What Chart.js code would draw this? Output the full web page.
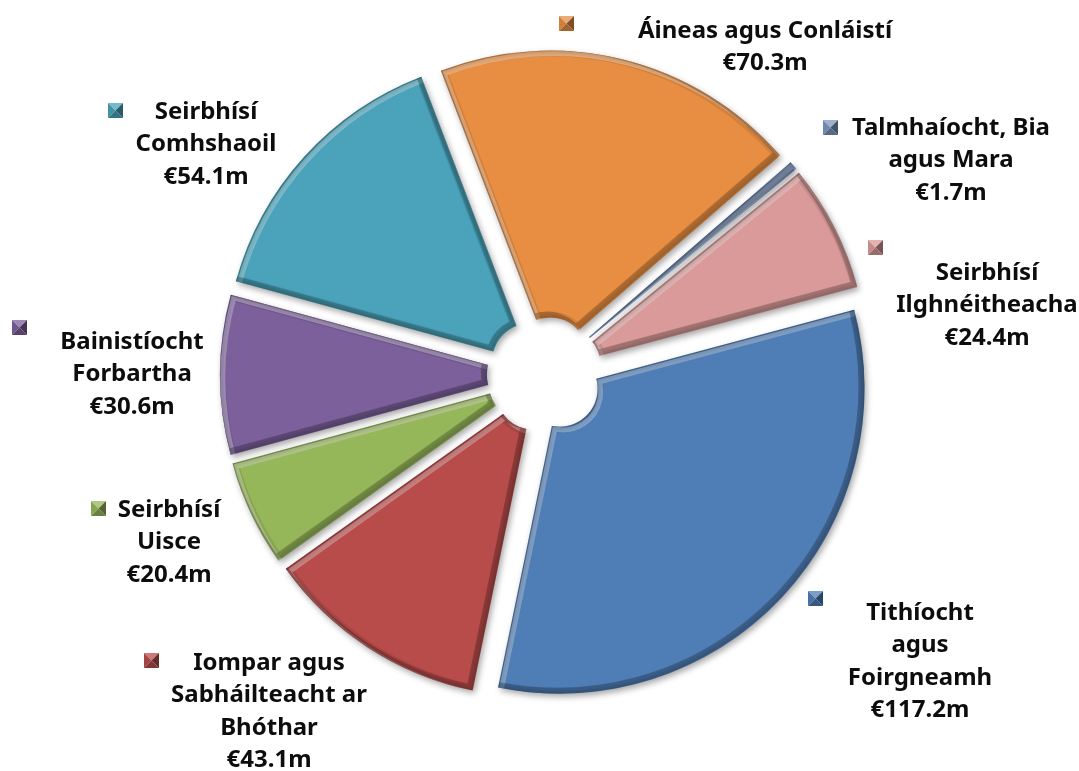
<!DOCTYPE html>
<html>
<head>
<meta charset="utf-8">
<script src="https://cdn.jsdelivr.net/npm/chart.js@4.4.0/dist/chart.umd.min.js"></script>
<style>
  html, body { margin: 0; background: #fff; }
  #wrap { width: 1079px; height: 771px; }
</style>
</head>
<body>
<div id="wrap"><canvas id="pie" width="1079" height="771"></canvas></div>
<script>
// --- data (€m) ---
const categories = [
  ['Tithíocht', 'agus', 'Foirgneamh'],
  ['Iompar agus', 'Sabháilteacht ar', 'Bhóthar'],
  ['Seirbhísí', 'Uisce'],
  ['Bainistíocht', 'Forbartha'],
  ['Seirbhísí', 'Comhshaoil'],
  ['Áineas agus Conláistí'],
  ['Talmhaíocht, Bia', 'agus Mara'],
  ['Seirbhísí', 'Ilghnéitheacha']
];
const values = [117.2, 43.1, 20.4, 30.6, 54.1, 70.3, 1.7, 24.4];
const valueLabels = values.map(v => '€' + v.toFixed(1) + 'm');

// --- styling ---
const sliceColors = ['#4F7DB6', '#B84C4A', '#96B65A', '#7C609C', '#4AA3BA', '#E88E42', '#7D96C0', '#D99A99'];
const EXPLODE = 20;
const LINE_H = 32.5;
// label blocks: centre x of text, first line y, legend key top-left
const labelLayout = [
  { cx: 920, y: 613, kx: 808, ky: 591 },
  { cx: 269, y: 663, kx: 144, ky: 653 },
  { cx: 169, y: 510, kx: 91,  ky: 501 },
  { cx: 132, y: 342, kx: 12,  ky: 320 },
  { cx: 206, y: 112, kx: 108, ky: 103 },
  { cx: 765, y: 31,  kx: 559, ky: 16 },
  { cx: 951, y: 128, kx: 823, ky: 120 },
  { cx: 987, y: 273, kx: 868, ky: 240 }
];

function shade(hex, amt) {
  const n = parseInt(hex.slice(1), 16);
  let r = n >> 16, g = (n >> 8) & 255, b = n & 255;
  const f = c => Math.max(0, Math.min(255, Math.round(amt < 0 ? c * (1 + amt) : c + (255 - c) * amt)));
  return `rgb(${f(r)},${f(g)},${f(b)})`;
}

function arcPath(ctx, a) {
  ctx.beginPath();
  ctx.arc(a.x, a.y, a.outerRadius, a.startAngle, a.endAngle);
  ctx.arc(a.x, a.y, a.innerRadius, a.endAngle, a.startAngle, true);
  ctx.closePath();
}

// push every slice outward along its mid angle (Excel "explosion")
const explodePlugin = {
  id: 'explode',
  afterDatasetUpdate(chart, args) {
    args.meta.data.forEach(arc => {
      const mid = (arc.startAngle + arc.endAngle) / 2;
      arc.x += Math.cos(mid) * EXPLODE;
      arc.y += Math.sin(mid) * EXPLODE;
    });
  }
};

// soft shadow + bevel on the slices
const bevelPlugin = {
  id: 'bevel',
  beforeDatasetsDraw(chart) {
    const ctx = chart.ctx;
    ctx.save();
    ctx.shadowColor = 'rgba(0,0,0,0.35)';
    ctx.shadowBlur = 6;
    ctx.shadowOffsetX = 2;
    ctx.shadowOffsetY = 3;
  },
  afterDatasetsDraw(chart) {
    const ctx = chart.ctx;
    ctx.restore();
    chart.getDatasetMeta(0).data.forEach((a, i) => {
      ctx.save();
      arcPath(ctx, a);
      ctx.clip();
      // dark rim
      [12, 7, 3].forEach(w => {
        ctx.lineWidth = w;
        ctx.strokeStyle = 'rgba(0,0,0,0.09)';
        arcPath(ctx, a);
        ctx.stroke();
      });
      // light bevel facing top-left
      ctx.save();
      ctx.translate(3, 3);
      ctx.lineWidth = 5;
      ctx.strokeStyle = 'rgba(255,255,255,0.3)';
      arcPath(ctx, a);
      ctx.stroke();
      ctx.restore();
      // darker bevel facing bottom-right
      ctx.translate(-3, -3);
      ctx.lineWidth = 6;
      ctx.strokeStyle = shade(sliceColors[i], -0.45);
      ctx.globalAlpha = 0.5;
      arcPath(ctx, a);
      ctx.stroke();
      ctx.restore();
    });
  }
};

// data labels with little bevelled legend keys
const labelPlugin = {
  id: 'sliceLabels',
  afterDraw(chart) {
    const ctx = chart.ctx;
    ctx.save();
    ctx.font = '700 24px "Noto Sans"';
    ctx.textAlign = 'center';
    ctx.textBaseline = 'middle';
    categories.forEach((lines, i) => {
      const L = labelLayout[i];
      const all = lines.concat([valueLabels[i]]);
      ctx.fillStyle = '#0d0d0d';
      all.forEach((t, j) => ctx.fillText(t, L.cx, L.y + j * LINE_H));
      // key square (pyramid bevel)
      const s = 15, x = L.kx, y = L.ky, c = sliceColors[i];
      const cxk = x + s / 2, cyk = y + s / 2;
      const tri = (pts, col) => {
        ctx.beginPath();
        ctx.moveTo(pts[0], pts[1]);
        ctx.lineTo(pts[2], pts[3]);
        ctx.lineTo(cxk, cyk);
        ctx.closePath();
        ctx.fillStyle = col;
        ctx.fill();
      };
      tri([x, y, x + s, y], shade(c, 0.25));
      tri([x, y, x, y + s], shade(c, -0.1));
      tri([x + s, y, x + s, y + s], shade(c, -0.45));
      tri([x, y + s, x + s, y + s], shade(c, -0.3));
    });
    ctx.restore();
  }
};

new Chart(document.getElementById('pie'), {
  type: 'doughnut',
  data: {
    labels: categories,
    datasets: [{
      data: values,
      backgroundColor: sliceColors,
      borderWidth: 0
    }]
  },
  options: {
    responsive: false,
    animation: false,
    rotation: 75,
    radius: 305,
    cutout: '12.5%',
    layout: { padding: { left: 11, right: 0, top: 0, bottom: 21 } },
    plugins: {
      legend: { display: false },
      tooltip: { enabled: false }
    }
  },
  plugins: [explodePlugin, bevelPlugin, labelPlugin]
});
</script>
</body>
</html>
